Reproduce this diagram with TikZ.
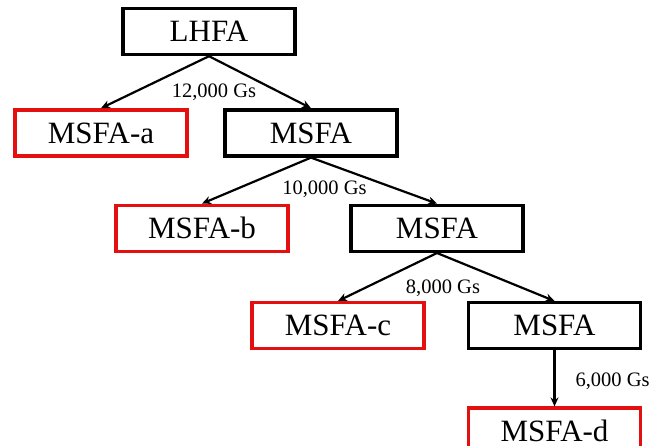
\documentclass[tikz,border=0pt]{standalone}
\usepackage{xcolor}
\usepackage{fontspec}
\setmainfont{Liberation Serif}
\usepackage{tikz}
\usetikzlibrary{positioning, arrows.meta}
\definecolor{markred}{RGB}{228,16,16}

\begin{document}
\begin{tikzpicture}[
    x=1pt, y=1pt,
    stagebox/.style={
        rectangle,
        draw=black,
        line width=3.4pt,
        minimum width=172pt,
        minimum height=46pt,
        inner sep=0pt,
        font=\fontsize{31}{31}\selectfont
    },
    finalbox/.style={
        stagebox,
        draw=markred
    },
    gslabel/.style={
        inner sep=0pt,
        font=\fontsize{20.5}{21}\selectfont
    },
    arrow/.style={
        -{Stealth[length=9pt,width=8pt]},
        line width=2.2pt
    }
]
\useasboundingbox (0,0) rectangle (663,-445);

% Top
\node[stagebox] (lhfa) at (209,-31.5) {LHFA};

% Level 1
\node[finalbox, below=52pt of lhfa, xshift=-108pt] (msfaa) {MSFA-a};
\node[stagebox, below=52pt of lhfa, xshift=102pt] (msfa1) {MSFA};

% Level 2
\node[finalbox, below=46pt of msfa1, xshift=-109pt] (msfab) {MSFA-b};
\node[stagebox, below=46pt of msfa1, xshift=126pt] (msfa2) {MSFA};

% Level 3
\node[finalbox, below=48pt of msfa2, xshift=-99pt] (msfac) {MSFA-c};
\node[stagebox, below=48pt of msfa2, xshift=117.5pt] (msfa3) {MSFA};

% Level 4
\node[finalbox, below=56pt of msfa3] (msfad) {MSFA-d};

% Labels
\node[gslabel, below=27pt of lhfa.south, xshift=5pt] (gs12) {12,000 Gs};
\node[gslabel, below=23pt of msfa1.south, xshift=13.5pt] (gs10) {10,000 Gs};
\node[gslabel, below=27pt of msfa2.south, xshift=6pt] (gs8) {8,000 Gs};

% Arrows
\draw[arrow] (lhfa.south) -- (msfaa.north);
\draw[arrow] (lhfa.south) -- (msfa1.north);
\draw[arrow] (msfa1.south) -- (msfab.north);
\draw[arrow] (msfa1.south) -- (msfa2.north);
\draw[arrow] (msfa2.south) -- (msfac.north);
\draw[arrow] (msfa2.south) -- (msfa3.north);
\draw[arrow] (msfa3.south) -- node[gslabel, right=20pt, yshift=-3pt] (gs6) {6,000 Gs} (msfad.north);

\end{tikzpicture}
\end{document}
